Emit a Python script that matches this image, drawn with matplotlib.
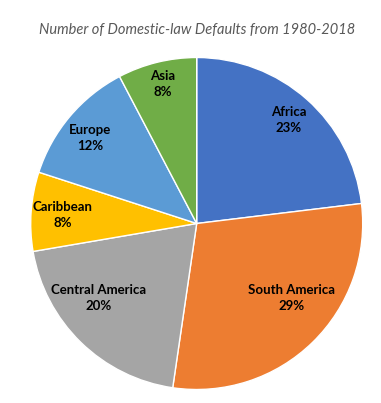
import matplotlib.pyplot as plt

regions = ['Africa', 'South America', 'Central America', 'Caribbean', 'Europe', 'Asia']
defaults = [15, 19, 13, 5, 8, 5]
colors = ['#4472C4', '#ED7D31', '#A5A5A5', '#FFC000', '#5B9BD5', '#70AD47']

# where excel put each label (in pie-radius units)
label_pos = [(0.556, 0.623), (0.574, -0.449), (-0.589, -0.449),
             (-0.806, 0.051), (-0.643, 0.515), (-0.203, 0.840)]

fig = plt.figure(figsize=(3.81, 4.03), dpi=100)
R = 166
cx, cy = 196.7, 403 - 223.5
ax = fig.add_axes([(cx - R) / 381, (cy - R) / 403, 2 * R / 381, 2 * R / 403])

ax.pie(defaults, colors=colors, startangle=90, counterclock=False,
       wedgeprops={'edgecolor': 'white', 'linewidth': 1})
ax.set_xlim(-1, 1)
ax.set_ylim(-1, 1)
ax.set_aspect('equal')

total = sum(defaults)
for name, v, (x, y) in zip(regions, defaults, label_pos):
    ax.text(x, y, '%s\n%d%%' % (name, round(v / total * 100)),
            ha='center', va='center', fontsize=9.5, fontweight='bold',
            family='Lato', linespacing=1.45, color='black')

fig.text(197 / 381, 1 - 30 / 403, 'Number of Domestic-law Defaults from 1980-2018',
         ha='center', va='center', fontsize=10.5, style='italic',
         family='Lato', color='#595959')

fig.savefig('out.png', dpi=100)
